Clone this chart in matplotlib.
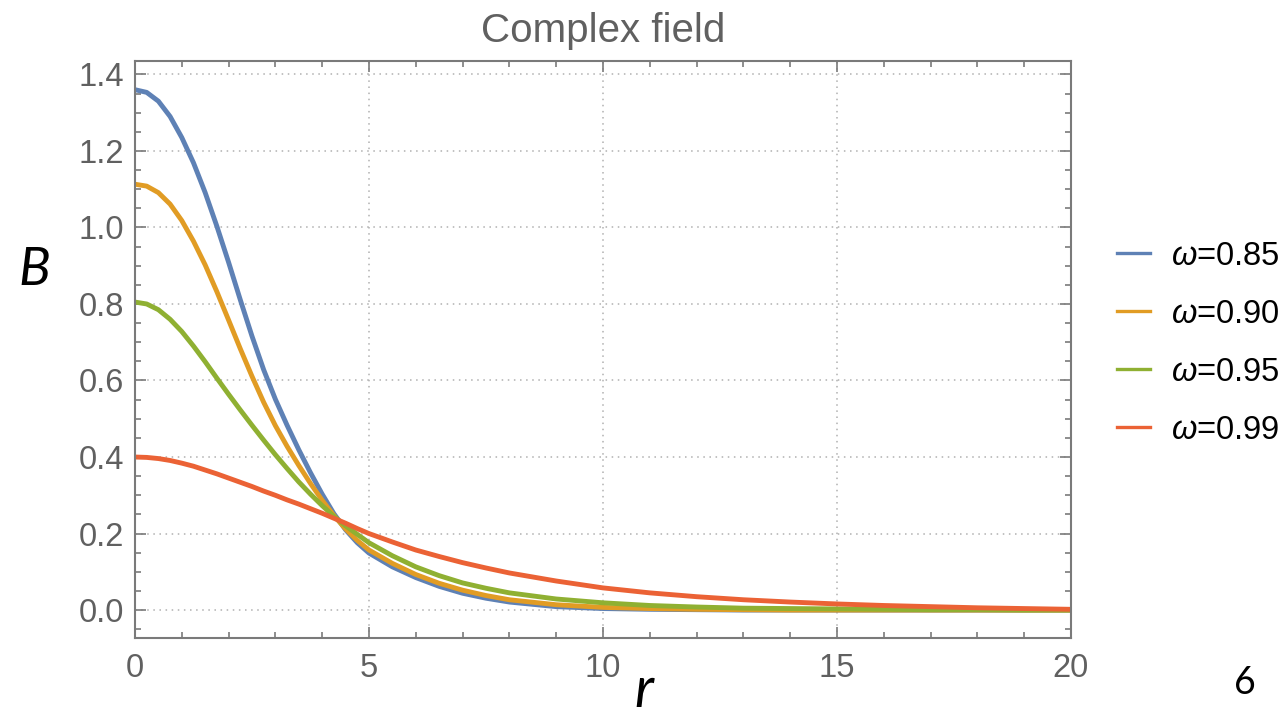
import matplotlib
matplotlib.use("Agg")
import matplotlib.pyplot as plt
from matplotlib.ticker import MultipleLocator

plt.rcParams.update({
    "font.family": "Liberation Sans",
    "mathtext.fontset": "custom",
    "mathtext.rm": "Liberation Sans",
    "mathtext.it": "Liberation Sans:italic",
})

# radial profiles B(r) for the complex field, one per frequency
r_vals = [0, 0.25, 0.5, 0.75, 1, 1.25, 1.5, 1.75, 2, 2.25, 2.5, 2.75, 3,
          3.25, 3.5, 3.75, 4, 4.25, 4.5, 4.75, 5, 5.5, 6, 6.5, 7, 7.5, 8,
          9, 10, 11, 12, 13, 14, 15, 16, 17, 18, 19, 20]
omegas = ["0.85", "0.90", "0.95", "0.99"]
b_085 = [1.360, 1.353, 1.330, 1.290, 1.235, 1.169, 1.091, 1.003, 0.909,
         0.811, 0.716, 0.628, 0.551, 0.483, 0.419, 0.359, 0.303, 0.252,
         0.210, 0.176, 0.149, 0.113, 0.085, 0.062, 0.044, 0.031, 0.021,
         0.009, 0.004, 0.002, 0.001, 0.000, 0.000, 0.000, 0.000, 0.000,
         0.000, 0.000, 0.000]
b_090 = [1.113, 1.108, 1.091, 1.061, 1.018, 0.964, 0.902, 0.832, 0.758,
         0.683, 0.611, 0.543, 0.482, 0.428, 0.378, 0.331, 0.287, 0.247,
         0.212, 0.182, 0.157, 0.122, 0.093, 0.070, 0.052, 0.038, 0.027,
         0.014, 0.007, 0.004, 0.002, 0.001, 0.000, 0.000, 0.000, 0.000,
         0.000, 0.000, 0.000]
b_095 = [0.805, 0.800, 0.785, 0.760, 0.728, 0.690, 0.649, 0.606, 0.564,
         0.523, 0.483, 0.444, 0.406, 0.370, 0.335, 0.303, 0.273, 0.245,
         0.220, 0.198, 0.176, 0.142, 0.113, 0.090, 0.071, 0.057, 0.045,
         0.029, 0.019, 0.012, 0.008, 0.005, 0.004, 0.003, 0.002, 0.001,
         0.001, 0.000, 0.000]
b_099 = [0.400, 0.399, 0.396, 0.391, 0.384, 0.376, 0.366, 0.356, 0.345,
         0.334, 0.323, 0.311, 0.300, 0.288, 0.277, 0.265, 0.253, 0.240,
         0.227, 0.213, 0.200, 0.178, 0.157, 0.140, 0.124, 0.110, 0.097,
         0.076, 0.058, 0.045, 0.035, 0.027, 0.021, 0.016, 0.012, 0.009,
         0.006, 0.004, 0.002]
profiles = [b_085, b_090, b_095, b_099]
colors = ["#5E81B5", "#E19C24", "#8FB032", "#EB6235"]

GRAY = "#7a7a7a"

fig = plt.figure(figsize=(12.88, 7.21), dpi=100)
ax = fig.add_axes([0.1048, 0.1151, 0.7267, 0.8003])

for b, c, w in zip(profiles, colors, omegas):
    ax.plot(r_vals, b, color=c, lw=3.5, solid_joinstyle="round",
            label=r"$\omega$=" + w)

ax.set_xlim(0, 20)
ax.set_ylim(-0.073, 1.435)
ax.xaxis.set_major_locator(MultipleLocator(5))
ax.xaxis.set_minor_locator(MultipleLocator(1))
ax.yaxis.set_major_locator(MultipleLocator(0.2))
ax.yaxis.set_minor_locator(MultipleLocator(0.05))
ax.yaxis.set_major_formatter(lambda v, p: f"{v:.1f}")

ax.tick_params(which="both", direction="in", top=True, right=True,
               color=GRAY, width=1.2)
ax.tick_params(which="major", length=8, labelsize=23.5, labelcolor="#606060")
ax.tick_params(which="minor", length=4)
ax.tick_params(axis="x", pad=11)
ax.tick_params(axis="y", pad=8)
for s in ax.spines.values():
    s.set_color(GRAY)
    s.set_linewidth(1.5)

ax.grid(True, which="major", color="#b0b0b0", linestyle=(0, (1, 3)), lw=1.1)
# no grid line on the top tick
for tick in ax.yaxis.get_major_ticks():
    if tick.get_loc() > 1.3:
        tick.gridline.set_visible(False)
ax.set_axisbelow(True)

ax.set_title("Complex field", fontsize=29, color="#606060", pad=14)

leg = fig.legend(loc="center left", bbox_to_anchor=(0.867, 0.524),
                 frameon=False, fontsize=23.5, handlelength=1.03,
                 handletextpad=0.62, labelspacing=0.83,
                 borderpad=0, borderaxespad=0)
for line in leg.get_lines():
    line.set_linewidth(2.4)

fig.text(0.027, 0.625, "B", fontsize=38, style="italic", family="Lato",
         ha="center", va="center")
fig.text(0.5, 0.005, "r", fontsize=40, style="italic", family="Lato",
         ha="center", va="bottom")
fig.text(0.9665, 0.053, "6", fontsize=27, family="Lato",
         ha="center", va="center")

fig.savefig("out.png", dpi=100)
